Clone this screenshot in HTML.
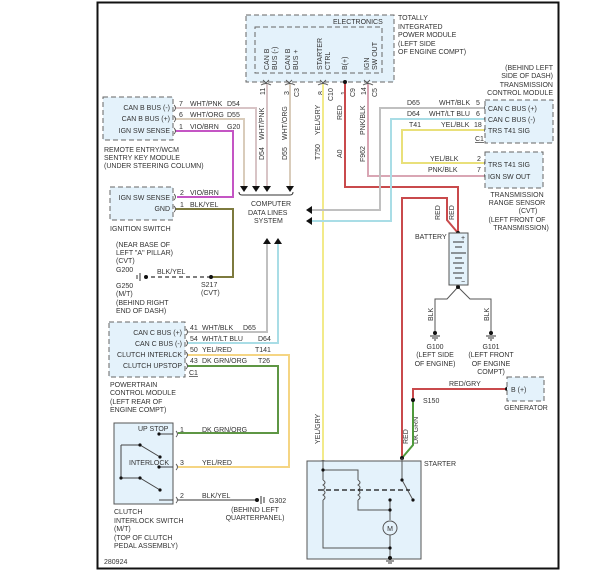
<!DOCTYPE html>
<html><head><meta charset="utf-8"><style>
body{margin:0;background:#fff}
svg{display:block}
text{font-family:"Liberation Sans",sans-serif;font-size:7px;fill:#333}
.b{fill:#e4f2fb;stroke:#666;stroke-width:1;stroke-dasharray:5,3}
.w{fill:none;stroke-width:2}
.k{fill:none;stroke:#555;stroke-width:1}
.c{fill:none;stroke:#555;stroke-width:0.9}
</style></head><body>
<svg width="601" height="581" viewBox="0 0 601 581" xmlns="http://www.w3.org/2000/svg">
<rect x="0" y="0" width="601" height="581" fill="#fff"/>
<rect x="97.5" y="2.5" width="461" height="566" fill="#fff" stroke="#111" stroke-width="2"/>

<!-- TIPM -->
<rect class="b" x="246" y="15" width="148" height="67"/>
<rect class="b" x="255" y="27" width="127" height="46"/>
<text x="333" y="24">ELECTRONICS</text>
<text x="398" y="20">TOTALLY</text>
<text x="398" y="29">INTEGRATED</text>
<text x="398" y="37">POWER MODULE</text>
<text x="398" y="46">(LEFT SIDE</text>
<text x="398" y="54">OF ENGINE COMPT)</text>
<g transform="rotate(-90)">
<text x="-70" y="269">CAN B</text><text x="-70" y="277">BUS (-)</text>
<text x="-70" y="290">CAN B</text><text x="-70" y="298">BUS +</text>
<text x="-70" y="322">STARTER</text><text x="-70" y="330">CTRL</text>
<text x="-70" y="347">B(+)</text>
<text x="-70" y="369">IGN</text><text x="-70" y="377">SW OUT</text>
<text x="-95" y="265">11</text><text x="-95" y="289">3</text><text x="-97" y="299">C3</text>
<text x="-95" y="323">8</text><text x="-101" y="333">C10</text>
<text x="-95" y="346">1</text><text x="-97" y="355">C9</text>
<text x="-95" y="366">14</text><text x="-97" y="377">C5</text>
<text x="-140" y="264">WHT/PNK</text><text x="-160" y="264">D54</text>
<text x="-140" y="287">WHT/ORG</text><text x="-160" y="287">D55</text>
<text x="-135" y="320">YEL/GRY</text><text x="-160" y="320">T750</text>
<text x="-120" y="342">RED</text><text x="-158" y="342">A0</text>
<text x="-135" y="365">PNK/BLK</text><text x="-162" y="365">F962</text>
<text x="-220" y="440">RED</text><text x="-220" y="454">RED</text>
<text x="-444" y="320">YEL/GRY</text>
<text x="-444" y="408">RED</text><text x="-444" y="418">DK GRN</text>
<text x="-321" y="433">BLK</text><text x="-321" y="489">BLK</text>
<text x="-522" y="320">HOLD-IN</text>
<text x="-522" y="355">PULL-IN</text>
</g>
<!-- TIPM pin marks -->
<path class="c" d="M263,80l3,3l3,-3M286,80l3,3l3,-3M320,80l3,3l3,-3M364,80l3,3l3,-3M261,85q5,-3 10,0M285,85q5,-3 10,0M318,85q5,-3 10,0M363,85q5,-3 10,0"/>

<!-- wires -->
<polyline class="w" stroke="#d8c4c6" points="267,84 267,187"/>
<polyline class="w" stroke="#d9ccbb" points="290,84 290,187"/>
<polyline class="w" stroke="#d8c4c6" points="175,108 256,108 256,187"/>
<polyline class="w" stroke="#d9ccbb" points="175,119 244,119 244,187"/>
<polyline class="w" stroke="#c455c4" points="175,131 233,131 233,197 177,197"/>
<polyline class="w" stroke="#f2ea8a" points="323,84 323,460"/>
<polyline class="w" stroke="#c94a4c" points="345,82 345,187 458,187 458,218 458,233"/>
<polyline class="w" stroke="#c94a4c" points="402,458 402,198 447,198 447,220 458,233"/>
<polyline class="w" stroke="#d9a6b4" points="368,84 368,176 484,176"/>
<polyline class="w" stroke="#c0c0c0" points="484,108 380,108 380,210 312,210"/>
<polyline class="w" stroke="#a9dde6" points="484,119 391,119 391,221 312,221"/>
<polyline class="w" stroke="#e9e07a" points="484,130 402,130 402,163 484,163"/>
<polyline class="w" stroke="#7d7a3e" points="175,209 233,209 233,277 211,277"/>
<line x1="211" y1="277" x2="146" y2="277" stroke="#333" stroke-width="1.2" stroke-dasharray="4,3"/>
<polyline class="w" stroke="#c0c0c0" points="187,332 267,332 267,244"/>
<polyline class="w" stroke="#a9dde6" points="187,343 278,343 278,244"/>
<polyline class="w" stroke="#f5d583" points="187,355 289,355 289,467 178,467"/>
<polyline class="w" stroke="#5e9644" points="187,366 278,366 278,433 178,433"/>
<polyline class="w" stroke="#999" points="178,500 257,500"/>
<polyline class="w" stroke="#c94a4c" points="413,400 413,389 507,389"/>
<polyline class="w" stroke="#4f9a3c" points="413,400 413,445 402,458"/>
<polyline class="k" stroke-width="1.6" points="435,332 435,299 447,299 458,287 470,299 491,299 491,332"/>

<!-- connector arcs on modules -->
<path class="c" d="M174,105q3,3 0,6M174,116q3,3 0,6M174,128q3,3 0,6M174,194q3,3 0,6M174,206q3,3 0,6M186,329q3,3 0,6M186,340q3,3 0,6M186,352q3,3 0,6M186,363q3,3 0,6M176,431q3,3 0,6M176,464q3,3 0,6M176,497q3,3 0,6M486,105q-3,3 0,6M486,116q-3,3 0,6M486,127q-3,3 0,6M486,160q-3,3 0,6M486,173q-3,3 0,6M320,462q3,-3 6,0"/>

<!-- arrows -->
<g fill="#111">
<path d="M240,186h8l-4,6z"/><path d="M252,186h8l-4,6z"/><path d="M263,186h8l-4,6z"/><path d="M286,186h8l-4,6z"/>
<path d="M306,210l6,-4v8z"/><path d="M306,221l6,-4v8z"/>
<path d="M263,244h8l-4,-6z"/><path d="M274,244h8l-4,-6z"/>
<circle cx="345" cy="82" r="2"/><circle cx="211" cy="277" r="2"/><circle cx="257" cy="500" r="2"/>
<circle cx="413" cy="400" r="2"/><circle cx="507" cy="389" r="2"/><circle cx="402" cy="458" r="2"/>
<circle cx="458" cy="233" r="2"/><circle cx="458" cy="287" r="2"/>
<circle cx="435" cy="333" r="2"/><circle cx="491" cy="333" r="2"/><circle cx="146" cy="277" r="2"/>
</g>
<path d="M239,192q0,3 3,3h48q3,0 3,-3" fill="none" stroke="#333"/>
<text x="251" y="206">COMPUTER</text>
<text x="248" y="215">DATA LINES</text>
<text x="254" y="223">SYSTEM</text>

<!-- RKE -->
<rect class="b" x="103" y="97" width="70" height="43"/>
<text x="170" y="110" text-anchor="end">CAN B BUS (-)</text>
<text x="170" y="121" text-anchor="end">CAN B BUS (+)</text>
<text x="170" y="133" text-anchor="end">IGN SW SENSE</text>
<text x="179" y="106">7</text><text x="190" y="106">WHT/PNK</text><text x="227" y="106">D54</text>
<text x="179" y="117">6</text><text x="190" y="117">WHT/ORG</text><text x="227" y="117">D55</text>
<text x="179" y="129">1</text><text x="190" y="129">VIO/BRN</text><text x="227" y="129">G20</text>
<text x="104" y="152">REMOTE ENTRY/WCM</text>
<text x="104" y="160">SENTRY KEY MODULE</text>
<text x="104" y="168">(UNDER STEERING COLUMN)</text>

<!-- Ignition switch -->
<rect class="b" x="110" y="187" width="63" height="33"/>
<text x="170" y="200" text-anchor="end">IGN SW SENSE</text>
<text x="170" y="211" text-anchor="end">GND</text>
<text x="180" y="195">2</text><text x="190" y="195">VIO/BRN</text>
<text x="180" y="207">1</text><text x="190" y="207">BLK/YEL</text>
<text x="110" y="231">IGNITION SWITCH</text>
<text x="116" y="247">(NEAR BASE OF</text>
<text x="116" y="255">LEFT "A" PILLAR)</text>
<text x="116" y="263">(CVT)</text>
<text x="116" y="272">G200</text>
<text x="157" y="274">BLK/YEL</text>
<text x="116" y="288">G250</text>
<text x="116" y="296">(M/T)</text>
<text x="116" y="305">(BEHIND RIGHT</text>
<text x="116" y="313">END OF DASH)</text>
<text x="201" y="287">S217</text>
<text x="201" y="295">(CVT)</text>
<path d="M140,273v8M137,275v4" stroke="#333"/>

<!-- TCM -->
<rect class="b" x="485" y="100" width="68" height="43"/>
<text x="553" y="70" text-anchor="end">(BEHIND LEFT</text>
<text x="553" y="78" text-anchor="end">SIDE OF DASH)</text>
<text x="553" y="87" text-anchor="end">TRANSMISSION</text>
<text x="553" y="95" text-anchor="end">CONTROL MODULE</text>
<text x="488" y="111">CAN C BUS (+)</text>
<text x="488" y="122">CAN C BUS (-)</text>
<text x="488" y="133">TRS T41 SIG</text>
<text x="407" y="105">D65</text><text x="439" y="105">WHT/BLK</text><text x="476" y="105">5</text>
<text x="407" y="116">D64</text><text x="429" y="116">WHT/LT BLU</text><text x="476" y="116">6</text>
<text x="409" y="127">T41</text><text x="441" y="127">YEL/BLK</text><text x="474" y="127">18</text>
<text x="475" y="141" text-decoration="underline">C1</text>

<!-- TRS -->
<rect class="b" x="485" y="152" width="58" height="36"/>
<text x="488" y="167">TRS T41 SIG</text>
<text x="488" y="179">IGN SW OUT</text>
<text x="430" y="161">YEL/BLK</text><text x="477" y="161">2</text>
<text x="428" y="172">PNK/BLK</text><text x="477" y="172">7</text>
<text x="517" y="197" text-anchor="middle">TRANSMISSION</text>
<text x="517" y="205" text-anchor="middle">RANGE SENSOR</text>
<text x="528" y="213" text-anchor="middle">(CVT)</text>
<text x="517" y="222" text-anchor="middle">(LEFT FRONT OF</text>
<text x="521" y="230" text-anchor="middle">TRANSMISSION)</text>

<!-- Battery -->
<rect x="449" y="233" width="19" height="52" fill="#e4f2fb" stroke="#555"/>
<g stroke="#333">
<path d="M453,242h11M455,247h7M451,253h15M455,258h7M453,263h11M455,268h7M453,273h11M455,278h7"/>
</g>
<text x="461" y="240" font-size="6">+</text><text x="461" y="284" font-size="6">−</text>
<text x="415" y="239">BATTERY</text>
<text x="435" y="349" text-anchor="middle">G100</text>
<text x="435" y="357" text-anchor="middle">(LEFT SIDE</text>
<text x="435" y="366" text-anchor="middle">OF ENGINE)</text>
<text x="491" y="349" text-anchor="middle">G101</text>
<text x="491" y="357" text-anchor="middle">(LEFT FRONT</text>
<text x="491" y="366" text-anchor="middle">OF ENGINE</text>
<text x="491" y="374" text-anchor="middle">COMPT)</text>
<path d="M430,336h10M432,338h6M434,340h2M486,336h10M488,338h6M490,340h2" stroke="#333"/>

<!-- Generator -->
<rect class="b" x="507" y="377" width="37" height="24"/>
<text x="511" y="392">B (+)</text>
<text x="526" y="410" text-anchor="middle">GENERATOR</text>
<text x="449" y="386">RED/GRY</text>
<text x="423" y="403">S150</text>

<!-- PCM -->
<rect class="b" x="109" y="322" width="76" height="55"/>
<text x="182" y="335" text-anchor="end">CAN C BUS (+)</text>
<text x="182" y="346" text-anchor="end">CAN C BUS (-)</text>
<text x="182" y="357" text-anchor="end">CLUTCH INTERLCK</text>
<text x="182" y="368" text-anchor="end">CLUTCH UPSTOP</text>
<text x="190" y="330">41</text><text x="202" y="330">WHT/BLK</text><text x="243" y="330">D65</text>
<text x="190" y="341">54</text><text x="202" y="341">WHT/LT BLU</text><text x="258" y="341">D64</text>
<text x="190" y="352">50</text><text x="202" y="352">YEL/RED</text><text x="255" y="352">T141</text>
<text x="190" y="363">43</text><text x="202" y="363">DK GRN/ORG</text><text x="258" y="363">T26</text>
<text x="189" y="375" text-decoration="underline">C1</text>
<text x="110" y="387">POWERTRAIN</text>
<text x="110" y="395">CONTROL MODULE</text>
<text x="110" y="404">(LEFT REAR OF</text>
<text x="110" y="412">ENGINE COMPT)</text>

<!-- Clutch switch -->
<rect x="114" y="423" width="59" height="81" fill="#e4f2fb" stroke="#555"/>
<text x="138" y="431">UP STOP</text>
<text x="129" y="465">INTERLOCK</text>
<g stroke="#444" fill="none">
<path d="M159,434H173M159,467H173M159,500H173M121,445v33M121,445h19l20,12M121,478h19l20,12"/>
</g>
<g fill="#111"><circle cx="159" cy="434" r="1.6"/><circle cx="159" cy="467" r="1.6"/><circle cx="140" cy="445" r="1.6"/><circle cx="160" cy="457" r="1.6"/><circle cx="140" cy="478" r="1.6"/><circle cx="160" cy="490" r="1.6"/><circle cx="121" cy="478" r="1.6"/></g>
<text x="180" y="432">1</text><text x="202" y="432">DK GRN/ORG</text>
<text x="180" y="465">3</text><text x="202" y="465">YEL/RED</text>
<text x="180" y="498">2</text><text x="202" y="498">BLK/YEL</text>
<path d="M261,496v8M264,497v6" stroke="#333"/>
<text x="269" y="503">G302</text>
<text x="255" y="512" text-anchor="middle">(BEHIND LEFT</text>
<text x="255" y="520" text-anchor="middle">QUARTERPANEL)</text>
<text x="114" y="514">CLUTCH</text>
<text x="114" y="523">INTERLOCK SWITCH</text>
<text x="114" y="531">(M/T)</text>
<text x="114" y="540">(TOP OF CLUTCH</text>
<text x="114" y="548">PEDAL ASSEMBLY)</text>
<text x="104" y="564">280924</text>

<!-- Starter -->
<rect x="307" y="461" width="114" height="98" fill="#e4f2fb" stroke="#555"/>
<text x="424" y="466">STARTER</text>
<g stroke="#555" fill="none">
<path d="M323,461v9h35v10M358,500v10h32M323,470v10M323,500v48h67M390,499v21M390,535v23M402,458v22l11,20"/>
<path d="M323,480q4,2.5 0,5q4,2.5 0,5q4,2.5 0,5q4,2.5 0,5M358,480q4,2.5 0,5q4,2.5 0,5q4,2.5 0,5q4,2.5 0,5"/>
<circle cx="390" cy="528" r="7"/>
</g>
<line x1="318" y1="490" x2="410" y2="490" stroke="#111" stroke-width="1.2" stroke-dasharray="5,3"/>
<text x="390" y="531" text-anchor="middle">M</text>
<g fill="#111"><circle cx="323" cy="470" r="1.6"/><circle cx="390" cy="500" r="1.6"/><circle cx="390" cy="510" r="1.6"/><circle cx="390" cy="548" r="1.6"/><circle cx="390" cy="558" r="2"/><circle cx="402" cy="480" r="1.6"/><circle cx="413" cy="500" r="1.6"/></g>
<path d="M386,561h8M388,563h4" stroke="#333"/>
</svg>
</body></html>
